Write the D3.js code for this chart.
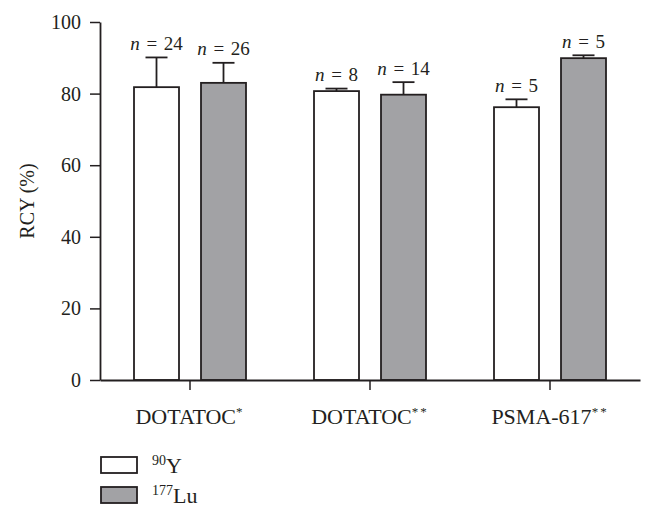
<!DOCTYPE html>
<html><head><meta charset="utf-8">
<script src="https://cdn.jsdelivr.net/npm/d3@7"></script>
<style>body{margin:0;background:#fff}svg{display:block}text{font-family:"Liberation Serif","Times New Roman",serif;fill:#231f20}</style>
</head><body><div id="chart"></div>
<script>
const categories = ["DOTATOC", "DOTATOC", "PSMA-617"];
const categoryMarks = ["*", "**", "**"];
const seriesNames = ["90Y", "177Lu"];
const seriesMass = ["90", "177"];
const seriesElem = ["Y", "Lu"];
const meanY90 = [81.8, 80.7, 76.2];
const errY90 = [8.3, 0.7, 2.2];
const nY90 = [24, 8, 5];
const meanLu177 = [83.0, 79.7, 89.9];
const errLu177 = [5.6, 3.5, 0.8];
const nLu177 = [26, 14, 5];
const yTicks = [0, 20, 40, 60, 80, 100];
const colors = ["#ffffff", "#a2a2a5"];

const W = 654, H = 519;
const svg = d3.select("#chart").append("svg").attr("width", W).attr("height", H);
const ink = "#231f20";
const serif = '"Liberation Serif","Times New Roman",serif';

const y = d3.scaleLinear().domain([0, 100]).range([380, 22]);
const x = d3.scaleBand().domain(d3.range(categories.length)).range([100, 640]).padding(0);
const bw = x.bandwidth();
const xs = d3.scaleBand().domain(d3.range(seriesNames.length))
  .range([bw / 2 - 56, bw / 2 + 56]).paddingInner(22 / 67).paddingOuter(0);

const data = [];
categories.forEach((c, i) => {
  data.push({c: i, s: 0, v: meanY90[i], e: errY90[i], n: nY90[i]});
  data.push({c: i, s: 1, v: meanLu177[i], e: errLu177[i], n: nLu177[i]});
});

// bars
const g = svg.append("g");
data.forEach(d => {
  const x0 = x(d.c) + xs(d.s), cx = x0 + xs.bandwidth() / 2;
  const top = y(d.v + d.e);
  g.append("line").attr("x1", cx).attr("x2", cx).attr("y1", y(d.v)).attr("y2", top)
    .attr("stroke", ink).attr("stroke-width", 1.8);
  g.append("line").attr("x1", cx - 11).attr("x2", cx + 11).attr("y1", top).attr("y2", top)
    .attr("stroke", ink).attr("stroke-width", 1.8);
  g.append("rect").attr("x", x0).attr("y", y(d.v)).attr("width", xs.bandwidth())
    .attr("height", y(0) - y(d.v)).attr("fill", colors[d.s]).attr("stroke", ink).attr("stroke-width", 1.8);
  const t = g.append("text").attr("x", cx).attr("y", top - 7.5).attr("text-anchor", "middle")
    .style("font-size", "19px").style("word-spacing", "2px");
  t.append("tspan").style("font-style", "italic").text("n");
  t.append("tspan").text(" = " + d.n);
});

// y axis
const ya = svg.append("g").attr("transform", "translate(100,0)")
  .call(d3.axisLeft(y).tickValues(yTicks).tickSize(10).tickPadding(9).tickSizeOuter(0));
ya.attr("font-family", null).attr("font-size", null);
ya.select(".domain").attr("stroke", ink).attr("stroke-width", 1.8);
ya.selectAll(".tick line").attr("stroke", ink).attr("stroke-width", 1.5);
ya.selectAll(".tick text").style("font-size", "20px").style("font-family", serif).style("fill", ink);

// x axis
const xa = svg.append("g").attr("transform", "translate(0,380)")
  .call(d3.axisBottom(x).tickSize(10).tickSizeOuter(0).tickFormat(() => ""));
xa.select(".domain").attr("stroke", ink).attr("stroke-width", 1.8);
xa.selectAll(".tick line").attr("stroke", ink).attr("stroke-width", 1.5);
categories.forEach((c, i) => {
  const t = svg.append("text").attr("x", x(i) + bw / 2).attr("y", 424).attr("text-anchor", "middle").style("font-size", "22px");
  t.append("tspan").text(c);
  t.append("tspan").style("font-size", "13px").attr("dy", -8).style("letter-spacing", "2px").text(categoryMarks[i]);
});

// y label
svg.append("text").attr("transform", "translate(34,201) rotate(-90)").attr("text-anchor", "middle")
  .style("font-size", "20px").text("RCY (%)");

// legend
seriesNames.forEach((s, i) => {
  const ly = 457 + i * 30;
  svg.append("rect").attr("x", 101).attr("y", ly).attr("width", 36).attr("height", 16)
    .attr("fill", colors[i]).attr("stroke", ink).attr("stroke-width", 1.8);
  const t = svg.append("text").attr("x", 152).attr("y", ly + 16).style("font-size", "22px");
  t.append("tspan").style("font-size", "14px").attr("dy", -8).text(seriesMass[i]);
  t.append("tspan").attr("dy", 8).text(seriesElem[i]);
});
</script></body></html>
